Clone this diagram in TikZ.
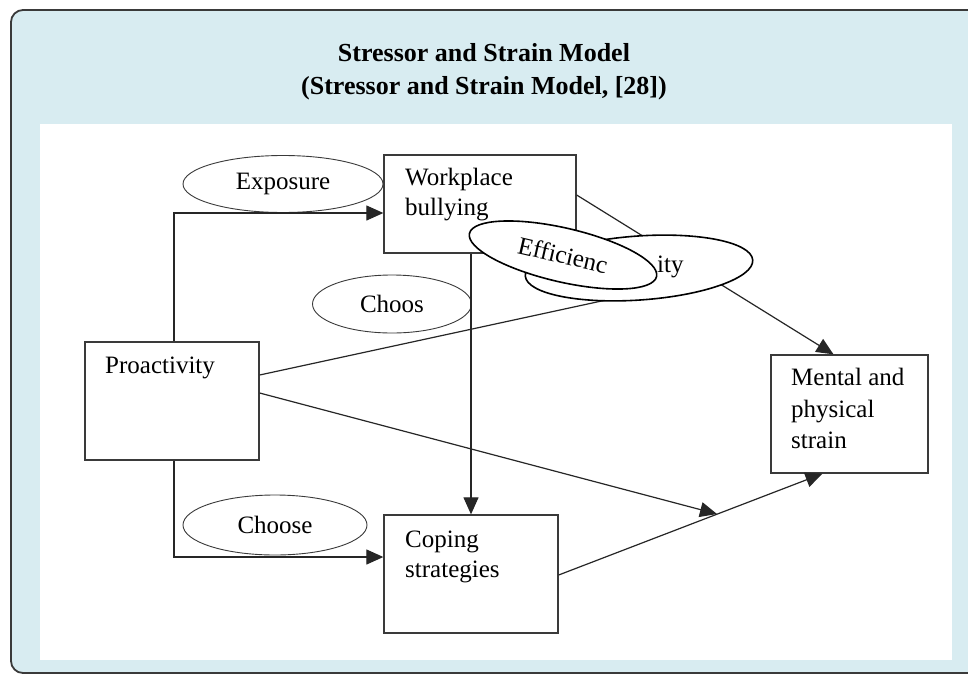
\documentclass[tikz,border=0pt]{standalone}
\usepackage{fontspec}
\setmainfont{Liberation Serif}
\usetikzlibrary{shapes.geometric,arrows.meta,calc}
\definecolor{panelblue}{HTML}{D8ECF1}
\definecolor{edgegray}{HTML}{3A3A3A}
\begin{document}
\begin{tikzpicture}[x=1pt,y=-1pt,
  box/.style={draw=edgegray, line width=1.3pt, fill=white, rectangle, inner sep=0pt},
  lbl/.style={font=\fontsize{25}{30}\selectfont, anchor=base west, inner sep=0pt},
  oval/.style={draw=edgegray, line width=0.9pt, fill=white, ellipse, inner sep=0pt, font=\fontsize{25}{30}\selectfont},
  bigoval/.style={draw=black, line width=1.6pt, fill=white, ellipse, inner sep=0pt, font=\fontsize{25}{30}\selectfont},
  conn/.style={draw=black!85, line width=1.2pt},
  arr/.style={conn, -{Triangle[length=17pt,width=15pt]}},
  ttl/.style={font=\bfseries\fontsize{26}{31}\selectfont, anchor=base, inner sep=0pt}
]
\useasboundingbox (0,0) rectangle (968,675);
\fill[white] (0,0) rectangle (968,675);
\draw[fill=panelblue, draw=edgegray, line width=1.8pt, rounded corners=12pt] (11,10) rectangle (995,673);
\fill[white] (40,124) rectangle (952,660);

% title
\node[ttl] (t1) at (484,61) {Stressor and Strain Model};
\node[ttl] (t2) at (484,94) {(Stressor and Strain Model, [28])};

% boxes
\node[box, minimum width=192pt, minimum height=98pt] (wb) at (480,204) {};
\node[box, minimum width=174pt, minimum height=118pt] (pro) at (172,401) {};
\node[box, minimum width=157pt, minimum height=118pt] (ms) at (849.5,414) {};
\node[box, minimum width=174pt, minimum height=118pt] (cs) at (471,574) {};

\node[lbl] (wbt1) at (405,185) {Workplace};
\node[lbl] (wbt2) at (405,215) {bullying};
\node[lbl] (prot) at (105,373) {Proactivity};
\node[lbl] (mst1) at (791,385) {Mental and};
\node[lbl] (mst2) at (791,417) {physical};
\node[lbl] (mst3) at (791,448) {strain};
\node[lbl] (cst1) at (405,547) {Coping};
\node[lbl] (cst2) at (405,577) {strategies};

% small ovals
\node[oval, minimum width=200pt, minimum height=57pt] (exp) at (283,184) {Exposure};
\node[oval, minimum width=159pt, minimum height=58pt] (choos) at (392,304) {Choos};
\node[oval, minimum width=184pt, minimum height=60pt] (choose) at (275,525) {Choose};

% connectors
\coordinate (c1) at (620,297);
\coordinate (c2) at (717,514);
\draw[arr] ([xshift=2pt]pro.north) |- ([yshift=-9pt]wb.west);
\draw[arr] ([xshift=2pt]pro.south) |- ([yshift=17pt]cs.west);
\draw[arr] (cs.north |- wb.south) -- (cs.north);
\draw[conn] ([yshift=26pt]pro.east) -- (c1);
\draw[arr] ([yshift=8pt]pro.east) -- (c2);
\draw[arr] ([yshift=-1pt]cs.east) -- ([xshift=-27pt]ms.south);
\draw[arr] ([yshift=9pt]wb.east) -- ([xshift=-16pt]ms.north);

% overlapping ovals
\node[bigoval, rotate=4, minimum width=228pt, minimum height=64pt] (ityov) at (639,268) {};
\node[lbl] (ityt) at (657,272) {ity};
\node[bigoval, rotate=-13, minimum width=192pt, minimum height=54pt] (eff) at (563,255) {Efficienc};
\end{tikzpicture}
\end{document}
